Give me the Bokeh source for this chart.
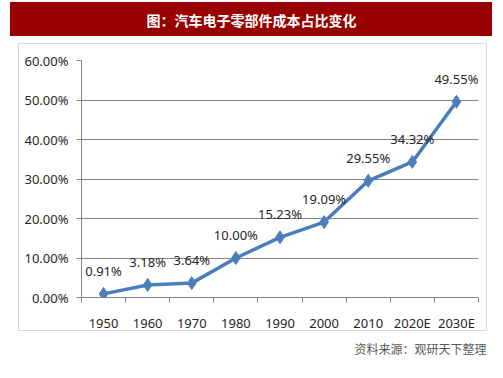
from bokeh.plotting import figure
from bokeh.layouts import column
from bokeh.models import (ColumnDataSource, LabelSet, Label, Title, InlineStyleSheet,
                          FixedTicker, NumeralTickFormatter, Range1d)
from bokeh.embed import file_html
from bokeh.resources import INLINE
from bokeh.core.properties import value

# ---- data ----
years = ["1950", "1960", "1970", "1980", "1990", "2000", "2010", "2020E", "2030E"]
shares = [0.0091, 0.0318, 0.0364, 0.1000, 0.1523, 0.1909, 0.2955, 0.3432, 0.4955]
share_labels = ["0.91%", "3.18%", "3.64%", "10.00%", "15.23%", "19.09%",
                "29.55%", "34.32%", "49.55%"]
y_ticks = [0.0, 0.1, 0.2, 0.3, 0.4, 0.5, 0.6]
title_text = "图：汽车电子零部件成本占比变化"
source_text = "资料来源：观研天下整理"

# ---- style ----
LINE_BLUE = "#4a7ebb"
GRID = "#868686"
TEXT = "#262626"
FONT = "Noto Sans"
CJK = "Noto Sans CJK SC"

# ---- title strip ----
head = figure(width=503, height=40, output_backend="svg", toolbar_location=None,
              x_range=Range1d(0, 1), y_range=Range1d(0, 1),
              x_axis_location=None, y_axis_location=None, min_border=0)
head.grid.grid_line_color = None
head.outline_line_color = None
head.background_fill_alpha = 0
head.border_fill_alpha = 0
head.stylesheets = [InlineStyleSheet(css=(
    ":host::before{content:'';position:absolute;left:10px;top:2px;"
    "width:482px;height:34px;background:#990000;}"))]
head.add_layout(Label(x=251, y=19, x_units="canvas", y_units="canvas",
                      text=title_text, text_align="center",
                      text_baseline="middle", text_color="white",
                      text_font=CJK, text_font_size="14px",
                      text_font_style="bold"))

# ---- main chart ----
n = len(years)
xs = [i + 0.5 for i in range(n)]
src = ColumnDataSource(dict(x=xs, y=shares, label=share_labels, year=years))

p = figure(width=503, height=338, output_backend="svg", toolbar_location=None,
           x_range=Range1d(0, n), y_range=Range1d(0, 0.6),
           min_border_left=81, min_border_right=25, min_border_top=20,
           min_border_bottom=81)
p.outline_line_color = None
p.background_fill_color = "white"
p.border_fill_alpha = 0
p.stylesheets = [InlineStyleSheet(css=(
    ":host::after{content:'';position:absolute;left:18px;top:3px;"
    "width:469px;height:288px;border:1px solid #d9d9d9;pointer-events:none;}"))]

# x axis: labels at category centres, tick marks at category boundaries
xa = p.xaxis[0]
xa.ticker = FixedTicker(ticks=xs, minor_ticks=list(range(n + 1)))
xa.major_label_overrides = {x: y for x, y in zip(xs, years)}
xa.major_tick_line_color = None
xa.major_tick_out = 0
xa.major_tick_in = 0
xa.minor_tick_line_color = GRID
xa.minor_tick_out = 5
xa.minor_tick_in = 0
xa.axis_line_color = GRID
xa.major_label_standoff = 11
xa.major_label_text_font = FONT
xa.major_label_text_font_size = "13px"
xa.major_label_text_color = TEXT

ya = p.yaxis[0]
ya.ticker = FixedTicker(ticks=y_ticks)
ya.formatter = NumeralTickFormatter(format="0.00%")
ya.major_tick_out = 5
ya.major_tick_in = 0
ya.minor_tick_line_color = None
ya.major_tick_line_color = GRID
ya.axis_line_color = GRID
ya.major_label_standoff = 8
ya.major_label_text_font = FONT
ya.major_label_text_font_size = "13px"
ya.major_label_text_color = TEXT

p.xgrid.grid_line_color = None
p.ygrid.grid_line_color = GRID
p.ygrid.grid_line_width = 1
p.ygrid.ticker = FixedTicker(ticks=y_ticks)

p.line("x", "y", source=src, line_color=LINE_BLUE, line_width=3.5)
p.scatter("x", "y", source=src, marker="diamond", size=13,
          fill_color=LINE_BLUE, line_color=LINE_BLUE)

p.add_layout(LabelSet(x="x", y="y", text="label", source=src, y_offset=23,
                      text_align="center", text_baseline="middle",
                      text_font=value(FONT), text_font_size="13px",
                      text_color=TEXT))

p.add_layout(Title(text=source_text, align="right", text_color="#595959",
                   text_font=CJK, text_font_size="12px",
                   text_font_style="normal", standoff=6, offset=-8), "below")

page = column(head, p, spacing=0)
open("out.html", "w").write(file_html(page, INLINE))
